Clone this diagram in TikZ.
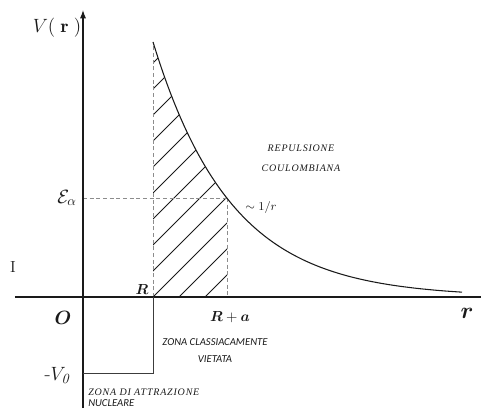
\documentclass[tikz,border=0pt]{standalone}
\usepackage{amsmath}
\usepackage{amssymb}
\usepackage{bm}
\usepackage{fontspec}
\usepackage{tikz}
\usepackage{xcolor}
\newfontfamily\calibrifont{Carlito}
\newfontfamily\zoneserif[LetterSpace=8]{Liberation Serif}
\newcommand{\Ealpha}{\ensuremath{\mathcal{E}_{\alpha}}}
\newcommand{\Vzero}{\ensuremath{\text{-}V_{\mathit{0}}}}
\newcommand{\Vofr}{\ensuremath{V(\;\mathbf{r}\;)}}
\usetikzlibrary{arrows.meta,positioning,calc}
\definecolor{potink}{HTML}{1A1A1A}
\definecolor{guidegray}{HTML}{8C8C8C}
\tikzset{
  axisLine/.style={draw=potink, line width=0.8pt},
  axisArrow/.style={axisLine, -{Latex[length=2.2mm,width=1.6mm]}},
  wellLine/.style={draw=potink!85, line width=0.7pt},
  curveLine/.style={draw=potink, line width=0.8pt},
  hatchLine/.style={draw=potink, line width=0.65pt},
  guideLine/.style={draw=guidegray, line width=0.55pt, dash pattern=on 3pt off 2pt},
  mathLabel/.style={inner sep=0pt, text=potink, font=\fontsize{11}{13}\selectfont},
  serifZone/.style={inner sep=0pt, align=center, text=potink, font=\fontsize{7.5}{15}\selectfont\zoneserif\itshape},
  sansZone/.style={inner sep=0pt, align=center, text=potink, font=\fontsize{8}{12.75}\selectfont\calibrifont\itshape}
}

\begin{document}
\begin{tikzpicture}[x=0.75pt, y=0.75pt]
  \useasboundingbox (-83,-113) rectangle (398,297);
  \coordinate (O) at (0,0);
  \coordinate (yTop) at (0,287);
  \coordinate (yBot) at (0,-111);
  \coordinate (xLeft) at (-68,0);
  \coordinate (xRight) at (398,0);
  \coordinate (wellL) at (0,-76);
  \coordinate (wellR) at (70,-76);
  \coordinate (Rpt) at (70,0);
  \coordinate (Rtop) at (70,255);
  \coordinate (Eaxis) at (0,99);
  \coordinate (Ept) at (144,99);
  \coordinate (RApt) at (144,0);

  % hatched classically forbidden zone
  \begin{scope}
    \clip (Rpt) -- (Rtop) -- plot[domain=70:144, samples=30] (\x, {255*exp(-(\x-70)/78)}) -- (RApt) -- cycle;
    \foreach \c in {122,96,...,-190}
      \draw[hatchLine] (\c,0) -- ++(300,300);
  \end{scope}

  \draw[guideLine] (Rpt) -- (Rtop);
  \draw[guideLine] (Eaxis) -- (Ept);
  \draw[guideLine] (Ept) -- (RApt);

  % axes and nuclear well
  \draw[axisLine] (xLeft) -- (xRight);
  \draw[axisArrow] (yBot) -- (yTop);
  \draw[wellLine] (wellL) -- (wellR) -- (Rpt);

  % coulomb tail
  \draw[curveLine] plot[domain=70:379, samples=90] (\x, {255*exp(-(\x-70)/78)});

  \node[mathLabel, font=\fontsize{14}{16}\selectfont] (vLabel) at (-26,269) {\Vofr};
  \node[mathLabel, font=\fontsize{14}{16}\selectfont, anchor=east] (eaLabel) at (-6,99) {\Ealpha};
  \node[mathLabel, font=\fontsize{12}{14}\selectfont] (iLabel) at (-70,30) {I};
  \node[mathLabel] (rLabel) at (59,8) {$\bm{R}$};
  \node[mathLabel, font=\fontsize{15}{17}\selectfont] (oLabel) at (-20,-21) {$\bm{O}$};
  \node[mathLabel] (raLabel) at (147,-20) {$\bm{R}+\bm{a}$};
  \node[mathLabel, font=\fontsize{18}{20}\selectfont] (rAxisLabel) at (384,-16) {$\bm{r}$};
  \node[mathLabel, font=\fontsize{15}{17}\selectfont] (vzLabel) at (-26,-79) {\Vzero};
  \node[mathLabel, font=\fontsize{9}{11}\selectfont] (slopeLabel) at (178,89) {$\sim 1/r$};

  \node[serifZone] (coulombZone) at (218,139) {REPULSIONE\\ COULOMBIANA};
  \node[sansZone] (forbiddenZone) at (132,-54) {ZONA CLASSIACAMENTE\\ VIETATA};
  \node[serifZone, anchor=west] (nuclearZone) at (5,-95) {ZONA DI ATTRAZIONE};
  \node[sansZone, anchor=west] (nuclearZoneB) at (5,-106) {NUCLEARE};
\end{tikzpicture}
\end{document}
